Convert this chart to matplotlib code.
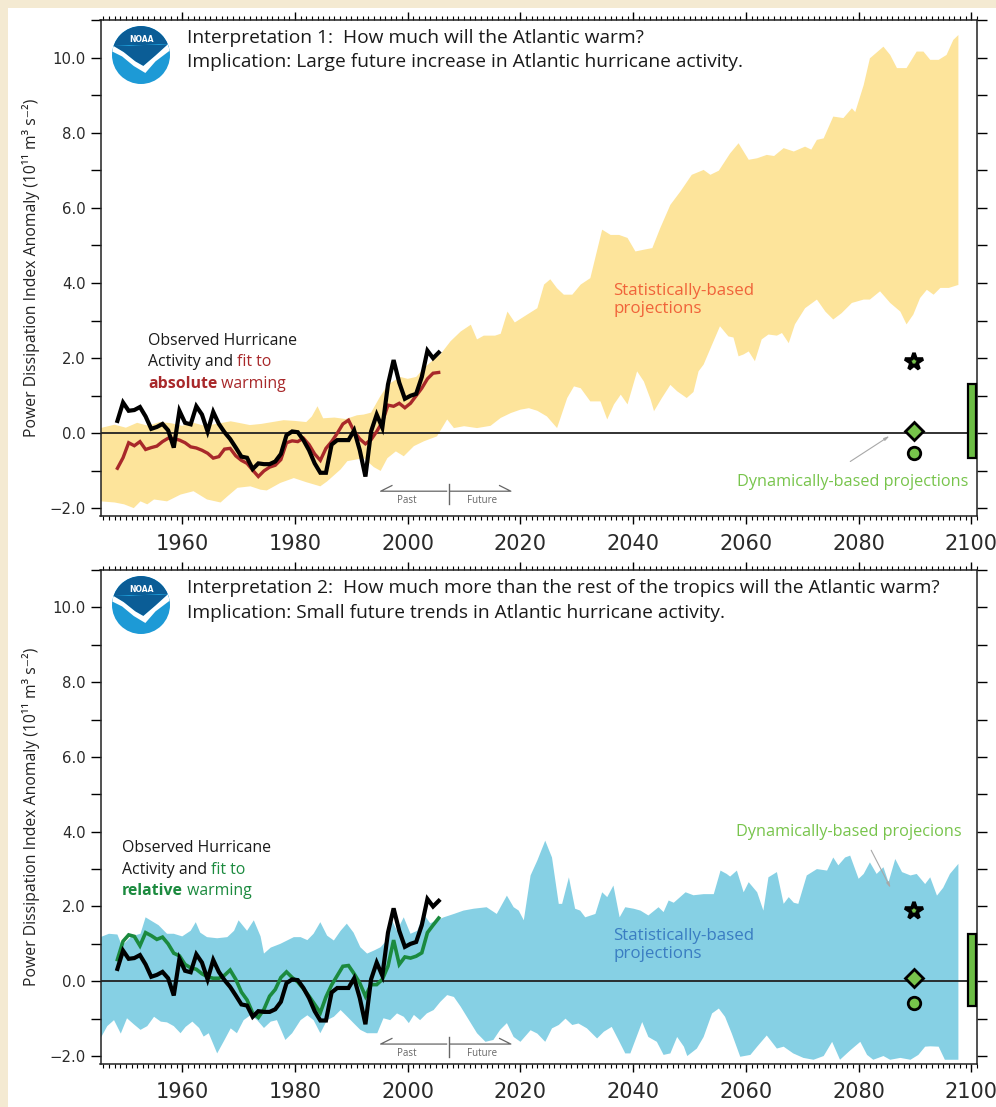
import numpy as np
import matplotlib
matplotlib.use("Agg")
import matplotlib.pyplot as plt
from matplotlib.patches import Circle, Polygon, Rectangle
from matplotlib.ticker import MultipleLocator, FixedLocator, FuncFormatter

W, H = 996, 1107

# observed hurricane activity (smoothed PDI anomaly), plotted at mid-year
obs_years = np.arange(1948, 2006) + 0.5
obs_pdi = [0.33, 0.82, 0.60, 0.62, 0.70, 0.45, 0.12, 0.17, 0.25, 0.08,
           -0.38, 0.60, 0.28, 0.24, 0.72, 0.50, 0.05, 0.57, 0.25, 0.03,
           -0.15, -0.38, -0.62, -0.65, -0.95, -0.80, -0.82, -0.82, -0.75, -0.55,
           -0.05, 0.05, 0.03, -0.18, -0.45, -0.80, -1.05, -1.05, -0.30, -0.18,
           -0.18, -0.18, 0.08, -0.45, -1.15, 0.05, 0.50, 0.15, 1.30, 1.95,
           1.35, 0.92, 1.00, 1.05, 1.50, 2.20, 2.00, 2.15]

# fit to absolute SST warming
fit_absolute = [-0.93, -0.65, -0.25, -0.33, -0.22, -0.43, -0.38, -0.34, -0.22, -0.13,
                -0.14, -0.18, -0.25, -0.36, -0.39, -0.45, -0.53, -0.66, -0.62, -0.42,
                -0.40, -0.60, -0.72, -0.80, -0.98, -1.15, -1.00, -0.90, -0.85, -0.70,
                -0.25, -0.20, -0.22, -0.13, -0.30, -0.55, -0.72, -0.40, -0.22, 0.00,
                0.25, 0.35, 0.05, -0.15, -0.28, -0.17, 0.05, 0.30, 0.75, 0.72,
                0.80, 0.68, 0.80, 1.00, 1.20, 1.45, 1.60, 1.62]

# fit to relative SST warming
fit_relative = [0.58, 1.07, 1.24, 1.20, 0.95, 1.30, 1.22, 1.12, 1.18, 1.00,
                0.75, 0.68, 0.45, 0.36, 0.32, 0.20, 0.12, 0.08, 0.08, 0.16,
                0.30, 0.05, -0.29, -0.50, -0.85, -0.97, -0.75, -0.40, -0.22, 0.10,
                0.25, 0.10, -0.02, -0.20, -0.40, -0.62, -0.84, -0.42, -0.10, 0.15,
                0.40, 0.42, 0.20, -0.05, -0.40, -0.09, -0.09, 0.05, 0.40, 1.10,
                0.45, 0.65, 0.62, 0.67, 0.76, 1.30, 1.50, 1.69]

# statistical projection range, absolute warming
abs_hi_years = [1945.5, 1948, 1950, 1952, 1954, 1956, 1958, 1960, 1962, 1964,
                1966, 1968.6, 1970, 1972, 1974, 1976, 1978, 1980, 1982, 1983,
                1984, 1985, 1987, 1989, 1991, 1992.2, 1993.5, 1995, 1996.5, 1998.7,
                2000, 2001.5, 2003, 2004.5, 2005.8, 2007.6, 2009.4, 2011.2, 2012.3, 2013.5,
                2015.5, 2016.5, 2017.7, 2019, 2021.2, 2023, 2024.2, 2025.3, 2026.5, 2027.7,
                2029.2, 2030.7, 2032.4, 2034.5, 2036, 2037.5, 2039, 2040.4, 2042, 2043.4,
                2044.8, 2046.6, 2048.4, 2050.4, 2052.5, 2053.7, 2055.2, 2057.2, 2058.7, 2060.5,
                2062, 2063.7, 2065, 2066.7, 2068.5, 2070.5, 2071.6, 2072.6, 2073.8, 2075.5,
                2077.3, 2078.8, 2079.4, 2080.9, 2082, 2084.4, 2085.6, 2086.8, 2088.5, 2090.3,
                2091.5, 2092.7, 2094.2, 2095.6, 2096.8, 2097.7]
abs_hi = [0.14, 0.23, 0.15, 0.28, 0.20, 0.30, 0.27, 0.20, 0.28, 0.20,
          0.25, 0.32, 0.28, 0.22, 0.25, 0.30, 0.35, 0.33, 0.30, 0.45,
          0.72, 0.40, 0.42, 0.38, 0.48, 0.50, 0.55, 0.95, 1.30, 1.50,
          1.45, 1.50, 1.75, 1.95, 2.10, 2.45, 2.71, 2.89, 2.50, 2.60,
          2.60, 2.65, 3.24, 2.95, 3.16, 3.33, 3.96, 4.10, 3.86, 3.69,
          3.69, 3.96, 4.13, 5.42, 5.28, 5.28, 5.20, 4.84, 4.89, 4.93,
          5.46, 6.08, 6.44, 6.88, 7.01, 6.88, 6.99, 7.45, 7.72, 7.28,
          7.32, 7.41, 7.38, 7.59, 7.50, 7.63, 7.55, 7.81, 7.85, 8.43,
          8.39, 8.65, 8.55, 9.27, 9.98, 10.29, 10.07, 9.72, 9.72, 10.16,
          10.16, 9.94, 9.94, 10.07, 10.47, 10.60]
abs_lo_years = [1945.5, 1948, 1949.7, 1951.4, 1952.6, 1953.8, 1955, 1957.3, 1959.7, 1962,
                1964.4, 1966.8, 1968, 1969.8, 1972.1, 1973.9, 1975, 1977.4, 1979.8, 1982,
                1984.5, 1985.7, 1988.1, 1989.3, 1992.2, 1994, 1995.2, 1996.4, 1997.9, 1999.3,
                2001.1, 2002.9, 2005.2, 2007, 2008.2, 2010, 2012.3, 2014.7, 2016.5, 2018.3,
                2020, 2021.5, 2023, 2024.7, 2026.5, 2028.3, 2029.5, 2030.7, 2032.4, 2034.2,
                2035.4, 2036.6, 2037.8, 2039, 2040.7, 2041.9, 2043.1, 2043.7, 2045.1, 2046.6,
                2047.8, 2049.5, 2050.7, 2051.6, 2052.5, 2054, 2055.4, 2056.9, 2057.8, 2058.7,
                2059.6, 2060.5, 2061.6, 2062.8, 2064, 2065.5, 2066.4, 2067.6, 2068.7, 2070.5,
                2072.6, 2074.1, 2075.5, 2077, 2078.8, 2080.9, 2082, 2083.8, 2085.6, 2087.4,
                2088.5, 2089.7, 2090.9, 2092.1, 2093.3, 2094.5, 2096, 2097.7]
abs_lo = [-1.81, -1.84, -1.89, -1.99, -1.81, -1.89, -1.76, -1.81, -1.63, -1.54,
          -1.76, -1.84, -1.68, -1.45, -1.41, -1.50, -1.52, -1.32, -1.19, -1.30,
          -1.41, -1.28, -0.96, -0.74, -0.66, -0.90, -1.00, -0.66, -0.48, -0.61,
          -0.34, -0.21, -0.08, 0.37, 0.14, 0.19, 0.14, 0.20, 0.41, 0.54,
          0.63, 0.67, 0.60, 0.45, 0.14, 0.94, 1.25, 1.20, 0.85, 0.85,
          0.37, 0.77, 1.03, 0.77, 1.65, 1.38, 0.90, 0.59, 0.94, 1.29,
          1.12, 0.94, 1.10, 1.65, 1.83, 2.36, 2.85, 2.58, 2.55, 2.05,
          2.10, 2.18, 1.92, 2.50, 2.63, 2.60, 2.67, 2.40, 2.90, 3.33,
          3.56, 3.24, 3.03, 3.20, 3.47, 3.56, 3.56, 3.78, 3.47, 3.24,
          2.90, 3.16, 3.60, 3.82, 3.69, 3.87, 3.87, 3.95]

# statistical projection range, relative warming
rel_hi_years = [1945.5, 1947, 1948.5, 1949.3, 1951, 1952.6, 1953.5, 1954.7, 1955.8, 1957.3,
                1958.5, 1960, 1961.5, 1962.4, 1963.2, 1964.4, 1966.2, 1968, 1969.2, 1970,
                1971.5, 1972.7, 1973.9, 1974.5, 1975.7, 1977.4, 1979.8, 1981, 1982.2, 1983.3,
                1984.5, 1985.7, 1986.9, 1988.1, 1989.2, 1990.4, 1991.6, 1992.8, 1994, 1995.2,
                1996.3, 1997.2, 1998.1, 1999.3, 2000.5, 2001.7, 2002.8, 2004, 2005.2, 2006.4,
                2008.2, 2009.9, 2011.7, 2014, 2015.8, 2017.6, 2018.8, 2019.7, 2020.6, 2021.8,
                2023, 2024.4, 2025.6, 2026.8, 2027.4, 2028.6, 2029.7, 2030.6, 2031.5, 2033.3,
                2034.5, 2035.4, 2036.5, 2037.6, 2038.6, 2040.1, 2041.3, 2042.7, 2044.5, 2045.4,
                2046.3, 2047.2, 2049.3, 2050.7, 2052.5, 2054.3, 2055.5, 2056.6, 2057.2, 2058.4,
                2059.6, 2060.5, 2062, 2063.1, 2064, 2065.5, 2066.7, 2067.6, 2068.5, 2069.3,
                2070.8, 2072.6, 2074.4, 2075.5, 2076.4, 2077.6, 2078.5, 2080, 2080.9, 2082,
                2083.2, 2084.4, 2085.3, 2086.5, 2087.7, 2089.2, 2090.3, 2091.8, 2092.7, 2093.9,
                2095, 2096.2, 2097.7]
rel_hi = [1.18, 1.27, 1.25, 0.95, 1.20, 1.27, 1.71, 1.60, 1.50, 1.27,
          1.27, 1.20, 1.35, 1.58, 1.30, 1.18, 1.15, 1.18, 1.35, 1.63,
          1.35, 1.63, 1.20, 0.74, 0.90, 1.00, 1.18, 1.18, 1.10, 1.27,
          1.58, 1.22, 1.09, 1.35, 1.54, 1.30, 0.91, 0.74, 0.82, 0.91,
          1.10, 1.63, 1.35, 1.71, 1.27, 1.35, 1.80, 1.55, 1.63, 1.71,
          1.80, 1.89, 1.94, 1.98, 1.80, 2.29, 1.98, 1.89, 1.63, 2.83,
          3.23, 3.76, 3.31, 2.07, 2.07, 2.78, 1.94, 1.89, 1.71, 1.80,
          2.38, 2.25, 2.56, 1.71, 1.98, 1.94, 1.89, 1.76, 1.98, 1.85,
          2.16, 2.10, 2.38, 2.30, 2.33, 2.33, 2.96, 2.87, 2.80, 2.96,
          2.38, 2.65, 2.38, 1.89, 2.78, 2.92, 2.07, 2.25, 2.10, 2.07,
          2.83, 3.00, 2.96, 3.31, 3.10, 3.31, 3.36, 2.74, 2.87, 3.18,
          2.87, 3.05, 2.65, 3.27, 2.92, 2.83, 2.87, 2.60, 2.78, 2.29,
          2.50, 2.87, 3.14]
rel_lo_years = [1945.5, 1946.7, 1947.9, 1949.1, 1950.2, 1951.4, 1952.6, 1953.8, 1955, 1956.2,
                1957.3, 1958.5, 1959.7, 1960.6, 1961.8, 1963, 1963.8, 1964.7, 1966.2, 1967.4,
                1968.6, 1969.7, 1970.9, 1972.1, 1973.3, 1974.5, 1975.7, 1976.8, 1978.3, 1979.5,
                1981, 1982.2, 1983.3, 1984.5, 1985.7, 1986.9, 1988.1, 1989.3, 1990.4, 1991.6,
                1992.8, 1994.6, 1995.7, 1996.9, 1998.1, 1999.3, 2000.2, 2001.1, 2002.2, 2003.4,
                2004.6, 2005.8, 2007, 2008.2, 2009.4, 2010.5, 2012.3, 2013.8, 2015.2, 2016.4,
                2017.6, 2018.8, 2020, 2021.8, 2023, 2024.4, 2025.6, 2026.8, 2028, 2029.2,
                2030.3, 2031.8, 2033.6, 2034.8, 2036.2, 2037.4, 2038.6, 2039.5, 2041.6, 2042.7,
                2044.2, 2045.4, 2046.6, 2047.8, 2049, 2049.6, 2051.3, 2052.5, 2054, 2055.2,
                2056.3, 2057.5, 2059, 2060.8, 2062, 2063.7, 2065.5, 2066.7, 2068.4, 2070.2,
                2072, 2073.8, 2075.3, 2076.7, 2078.5, 2080.3, 2081.5, 2082.6, 2084.4, 2085.6,
                2087.4, 2089.2, 2090.6, 2091.8, 2092.7, 2094.2, 2095.3, 2097.7]
rel_lo = [-1.53, -1.20, -1.04, -1.40, -0.99, -1.15, -1.30, -1.20, -0.95, -1.08,
          -1.10, -1.20, -1.39, -1.22, -1.08, -1.25, -1.48, -1.39, -1.93, -1.60,
          -1.26, -1.39, -1.04, -0.91, -1.04, -1.25, -1.08, -1.04, -1.57, -1.39,
          -1.04, -0.91, -1.04, -1.39, -1.04, -0.95, -0.77, -0.95, -1.12, -1.30,
          -1.39, -1.39, -0.99, -1.04, -0.86, -0.95, -1.12, -0.90, -1.04, -0.86,
          -0.77, -0.55, -0.37, -0.42, -0.68, -0.95, -1.39, -1.62, -1.57, -1.30,
          -1.12, -1.49, -1.62, -1.31, -1.40, -1.62, -1.26, -1.17, -1.00, -1.17,
          -1.13, -1.26, -1.53, -1.35, -1.22, -1.57, -1.93, -1.93, -1.09, -1.49,
          -1.62, -1.97, -1.93, -1.49, -1.75, -2.00, -1.80, -1.49, -0.86, -0.73,
          -0.95, -1.40, -2.02, -1.97, -1.75, -1.45, -1.80, -1.75, -1.93, -2.05,
          -2.10, -2.00, -1.62, -2.10, -1.85, -1.62, -1.97, -2.10, -2.00, -2.10,
          -2.05, -2.10, -1.97, -1.75, -1.74, -1.75, -2.10, -2.10]

# dynamical model projections (star, diamond, circle) and their range bar
dyn_year = 2089.8
dyn_abs = [1.89, 0.05, -0.53]
dyn_rel = [1.89, 0.10, -0.57]
dyn_bar_abs = (-0.66, 1.31)
dyn_bar_rel = (-0.67, 1.27)
dyn_markers = ["*", "D", "o"]
dyn_sizes = [13, 9, 9]
dyn_edges = [2.6, 2.0, 2.0]

YELLOW = "#fde49b"
BLUE = "#86d0e4"
DKRED = "#a8282a"
DKGREEN = "#1b8a3e"
LTGREEN = "#77c44b"
MYRIAD = ["Open Sans", "DejaVu Sans"]
TICKFONT = "DejaVu Sans"

fig = plt.figure(figsize=(W / 100, H / 100), dpi=100)
fig.patch.set_facecolor("#f4ead2")
fig.patches.append(Rectangle((8 / W, 0), 1, 1 - 8 / H, transform=fig.transFigure,
                             facecolor="white", edgecolor="none", zorder=-10))


def px_axes(x0, y0, x1, y1):
    return fig.add_axes([x0 / W, 1 - y1 / H, (x1 - x0) / W, (y1 - y0) / H])


def noaa_logo(cx, cy, r):
    lax = px_axes(cx - r, cy - r, cx + r, cy + r)
    lax.set_xlim(-1, 1)
    lax.set_ylim(-1, 1)
    lax.set_aspect("equal")
    lax.axis("off")
    disk = Circle((0, 0), 1, facecolor="#1d9ad6", edgecolor="none")
    lax.add_patch(disk)
    top = np.linspace(np.radians(22), np.radians(162), 40)
    edge = [(-0.95, 0.31), (-0.6, 0.1), (-0.2, -0.22), (0.08, -0.38), (0.5, -0.02), (0.93, 0.37)]
    dark = np.vstack([np.column_stack([np.cos(top), np.sin(top)])[::-1], edge])
    p = Polygon(dark, closed=True, facecolor="#0b5d96", edgecolor="none")
    lax.add_patch(p)
    p.set_clip_path(disk)
    gull = edge + [(0.99, 0.15), (0.5, -0.22), (0.15, -0.62), (-0.25, -0.38),
                   (-0.65, -0.05), (-0.99, 0.12)]
    g = Polygon(gull, closed=True, facecolor="white", edgecolor="none")
    lax.add_patch(g)
    g.set_clip_path(disk)
    lax.text(0, 0.52, "NOAA", color="white", fontsize=5.5, fontweight="bold",
             ha="center", va="center", family="DejaVu Sans")


def style_axes(ax):
    ax.set_xlim(1945.5, 2101)
    ax.set_ylim(-2.2, 11)
    ax.xaxis.set_major_locator(FixedLocator(range(1960, 2101, 20)))
    ax.xaxis.set_minor_locator(MultipleLocator(1))
    ax.yaxis.set_major_locator(FixedLocator(range(-2, 11, 2)))
    ax.yaxis.set_minor_locator(FixedLocator(range(-1, 12, 2)))
    ax.yaxis.set_major_formatter(FuncFormatter(lambda v, p: f"{v:.1f}".replace("-", "\u2212")))
    ax.tick_params(axis="x", which="major", direction="out", length=6, width=1.0,
                   top=True, bottom=True, labelsize=15, pad=7, labelcolor="#2a2a2a")
    ax.tick_params(axis="x", which="minor", direction="out", length=3, width=0.8,
                   top=True, bottom=True)
    ax.tick_params(axis="y", which="both", direction="out", length=7.5, width=1.0,
                   left=True, right=True, labelsize=10.7, pad=3, labelcolor="#2a2a2a")
    for lab in ax.get_xticklabels() + ax.get_yticklabels():
        lab.set_family(TICKFONT)
    for s in ax.spines.values():
        s.set_linewidth(1.1)
        s.set_color("#222")
    ax.axhline(0, color="#222", lw=1.3, zorder=3)
    ax.set_ylabel("Power Dissipation Index Anomaly (10\u00b9\u00b9 m\u00b3 s\u207b\u00b2)",
                  family=MYRIAD, fontsize=11.3, color="#222")
    ax.yaxis.set_label_coords(-0.069, 0.5)


def past_future(ax, y, tick_lo, tick_hi, text_y):
    c = "#666666"
    ax.plot([1997.2, 1995.2, 2006.9], [y + 0.15, y, y], color=c, lw=0.9, zorder=4)
    ax.plot([2007.6, 2018.3, 2016.3], [y, y, y + 0.15], color=c, lw=0.9, zorder=4)
    ax.plot([2007.25, 2007.25], [tick_lo, tick_hi], color=c, lw=1.0, zorder=4)
    ax.text(1999.9, text_y, "Past", fontsize=7, color=c, ha="center", va="center", family=MYRIAD)
    ax.text(2013.2, text_y, "Future", fontsize=7, color=c, ha="center", va="center", family=MYRIAD)


def dyn_points(ax, vals, bar):
    for v, m, s, e in zip(vals, dyn_markers, dyn_sizes, dyn_edges):
        ax.plot(dyn_year, v, marker=m, ms=s, mfc=LTGREEN, mec="black", mew=e,
                ls="none", zorder=6, clip_on=False)
    ax.bar(2100.1, bar[1] - bar[0], bottom=bar[0], width=1.35, color="#6cbd45",
           edgecolor="black", lw=1.6, zorder=6, clip_on=False)


def observed_label(ax, x, y, color, word):
    fs = 11.4
    kw = dict(fontsize=fs, family=MYRIAD, transform=ax.transAxes, va="baseline")
    ax.text(x, y, "Observed Hurricane", color="#1a1a1a", **kw)
    t = ax.text(x, y - 0.043, "Activity and ", color="#1a1a1a", **kw)
    ax.annotate("fit to", xy=(1, 0), xycoords=t, color=color, fontsize=fs,
                family=MYRIAD, va="bottom")
    t2 = ax.text(x, y - 0.086, word, color=color, fontweight="bold", **kw)
    ax.annotate(" warming", xy=(1, 0), xycoords=t2, color=color, fontsize=fs,
                family=MYRIAD, va="bottom")


def titles(ax, line1, line2, y1, y2):
    kw = dict(fontsize=13.8, family=MYRIAD, color="#1a1a1a", transform=ax.transAxes, va="center")
    ax.text(0.0987, y1, line1, **kw)
    ax.text(0.0987, y2, line2, **kw)


# upper panel: absolute warming
ax1 = px_axes(100.5, 20, 977, 516)
ax1.fill(np.r_[abs_hi_years, abs_lo_years[::-1]], np.r_[abs_hi, abs_lo[::-1]],
         color=YELLOW, lw=0, zorder=1)
ax1.plot(obs_years, fit_absolute, color=DKRED, lw=2.4, zorder=4, solid_joinstyle="miter")
ax1.plot(obs_years, obs_pdi, color="black", lw=3.0, zorder=5, solid_joinstyle="miter")
style_axes(ax1)
past_future(ax1, -1.54, -1.36, -1.89, -1.79)
dyn_points(ax1, dyn_abs, dyn_bar_abs)
titles(ax1, "Interpretation 1:  How much will the Atlantic warm?",
       "Implication: Large future increase in Atlantic hurricane activity.", 0.963, 0.916)
observed_label(ax1, 0.0542, 0.345, DKRED, "absolute")
ax1.text(2036.5, 3.55, "Statistically-based\nprojections", color="#f0643a", fontsize=12.2,
         family=MYRIAD, va="center", linespacing=1.15)
ax1.text(2099.4, -1.3, "Dynamically-based projections", color=LTGREEN, fontsize=11.7,
         family=MYRIAD, ha="right", va="center")
ax1.annotate("", xy=(2085.9, -0.03), xytext=(2078.1, -0.79),
             arrowprops=dict(arrowstyle="-|>,head_length=0.3,head_width=0.08",
                             color="#a8a8a8", lw=0.8))

# lower panel: relative warming
ax2 = px_axes(100.5, 570, 977, 1063.5)
ax2.fill(np.r_[rel_hi_years, rel_lo_years[::-1]], np.r_[rel_hi, rel_lo[::-1]],
         color=BLUE, lw=0, zorder=1)
ax2.plot(obs_years, fit_relative, color=DKGREEN, lw=2.6, zorder=4, solid_joinstyle="miter")
ax2.plot(obs_years, obs_pdi, color="black", lw=3.0, zorder=5, solid_joinstyle="miter")
style_axes(ax2)
past_future(ax2, -1.68, -1.50, -2.03, -1.94)
dyn_points(ax2, dyn_rel, dyn_bar_rel)
titles(ax2, "Interpretation 2:  How much more than the rest of the tropics will the Atlantic warm?",
       "Implication: Small future trends in Atlantic hurricane activity.", 0.963, 0.913)
observed_label(ax2, 0.0245, 0.428, DKGREEN, "relative")
ax2.text(2036.5, 0.98, "Statistically-based\nprojections", color="#3a7dc2", fontsize=12.2,
         family=MYRIAD, va="center", linespacing=1.15)
ax2.text(2098.3, 4.0, "Dynamically-based projecions", color=LTGREEN, fontsize=11.7,
         family=MYRIAD, ha="right", va="center")
ax2.annotate("", xy=(2085.9, 2.43), xytext=(2082.0, 3.57),
             arrowprops=dict(arrowstyle="-|>,head_length=0.3,head_width=0.08",
                             color="#a8a8a8", lw=0.8))

noaa_logo(141, 55, 29)
noaa_logo(141, 605, 29)

fig.savefig("out.png", dpi=100, facecolor=fig.get_facecolor())
